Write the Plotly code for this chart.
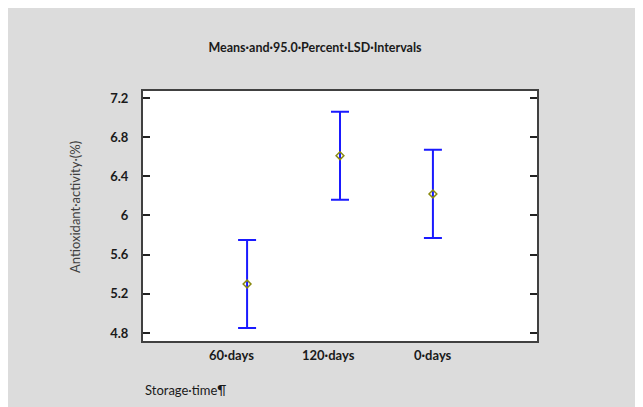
import plotly.graph_objects as go

categories = ["60·days", "120·days", "0·days"]
means = [5.30, 6.61, 6.22]
lsd_half = [0.45, 0.45, 0.45]
label_shift = [-16, -12, 0]
ytick_vals = [4.8, 5.2, 5.6, 6.0, 6.4, 6.8, 7.2]
ytick_text = ["4.8", "5.2", "5.6", "6", "6.4", "6.8", "7.2"]

# the page body adds an 8px margin, so the figure is sized to fill the rest
W, H = 635, 399
OFF = 8
ML, MR, MT, MB = 135, 106, 83, 66
PW, PH = W - ML - MR, H - MT - MB
FONT = "Lato"


def px(xr):
    return (xr - OFF - ML) / PW


def py(yr):
    return (H - MB - (yr - OFF)) / PH


fig = go.Figure()
fig.add_trace(go.Scatter(
    x=categories, y=means, mode="markers",
    marker=dict(symbol="diamond-open", size=6, color="#8a8a10", line=dict(width=1.5)),
    error_y=dict(type="data", array=lsd_half, visible=True, color="#1a1aff",
                 thickness=2, width=9),
    showlegend=False,
))

annotations = []
for c, s in zip(categories, label_shift):
    annotations.append(dict(x=c, y=0, xref="x", yref="paper", text=c, showarrow=False,
                            xanchor="center", yanchor="top", yshift=-4, xshift=s,
                            font=dict(family=FONT, size=13, color="#1a1a1a", weight="bold")))
annotations.append(dict(x=px(75), y=py(207), xref="paper", yref="paper",
                        text="Antioxidant·activity·(%)", textangle=-90, showarrow=False,
                        xanchor="center", yanchor="middle",
                        font=dict(family=FONT, size=13, color="#404040")))
annotations.append(dict(x=px(143), y=py(390), xref="paper", yref="paper",
                        text="Storage·time¶", showarrow=False,
                        xanchor="left", yanchor="middle",
                        font=dict(family=FONT, size=13, color="#1a1a1a")))

fig.update_layout(
    width=W, height=H,
    margin=dict(l=ML, r=MR, t=MT, b=MB),
    paper_bgcolor="#dcdcdc", plot_bgcolor="white",
    title=dict(text="Means·and·95.0·Percent·LSD·Intervals", x=(315 - OFF) / W, xanchor="center",
               y=1 - (48 - OFF) / H, yanchor="middle",
               font=dict(family=FONT, size=12.5, color="#1a1a1a", weight="bold")),
    xaxis=dict(type="category", range=[-1.12, 3.12], showticklabels=False, ticks="",
               showgrid=False, zeroline=False, showline=True, linecolor="#404040",
               linewidth=2, mirror=True),
    yaxis=dict(range=[4.718, 7.271], tickvals=ytick_vals, ticktext=ytick_text,
               ticks="inside", ticklen=7, tickwidth=1.5, tickcolor="#222",
               showgrid=False, zeroline=False, showline=True, linecolor="#404040",
               linewidth=2, mirror="ticks", ticklabelstandoff=10,
               tickfont=dict(family=FONT, size=13, color="#1a1a1a", weight="bold")),
    annotations=annotations,
)

fig.write_html("out.html")
